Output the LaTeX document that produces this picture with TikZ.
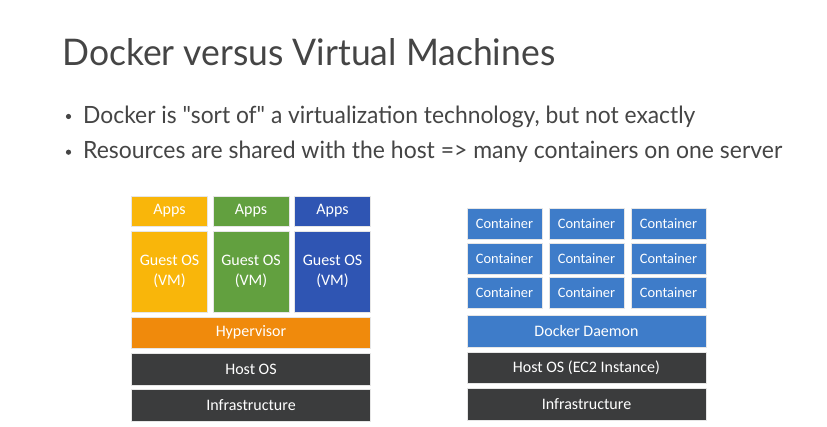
\documentclass[tikz,border=0pt]{standalone}
\usepackage{fontspec}
\usepackage{graphicx}
\newfontfamily\boxfont{Carlito}
\newfontfamily\slidefont{Lato}
\definecolor{txtgray}{HTML}{454545}
\definecolor{appyellow}{HTML}{F9B60A}
\definecolor{appgreen}{HTML}{62A03F}
\definecolor{appblue}{HTML}{2F55B3}
\definecolor{hyperorange}{HTML}{F08A0C}
\definecolor{darkslab}{HTML}{3B3C3D}
\definecolor{contblue}{HTML}{3E7CC9}
\definecolor{boxedge}{HTML}{E6E6E6}
\tikzset{
  box/.style={draw=boxedge, line width=0.6pt, text=white, font=\boxfont\fontsize{16}{20}\selectfont, inner sep=0pt, align=center},
  ctr/.style={box, fill=contblue, minimum width=75pt, minimum height=31pt, font=\boxfont\fontsize{14.4}{17}\selectfont},
  slidetext/.style={anchor=base west, inner sep=0pt, text=txtgray}
}
\begin{document}
\begin{tikzpicture}[x=1pt,y=-1pt]
\useasboundingbox[fill=white] (0,0) rectangle (827,427);
% title and bullets
\node[slidetext] (title) at (62,66) {\resizebox{493pt}{27pt}{\slidefont Docker versus Virtual Machines}};
\node[slidetext] (b1) at (83,123.3) {\resizebox{612pt}{17.5pt}{\slidefont Docker is "sort of" a virtualization technology, but not exactly}};
\node[slidetext] (b2) at (83,159) {\resizebox{699pt}{17.5pt}{\slidefont Resources are shared with the host => many containers on one server}};
\fill[txtgray] (68.5,116.5) circle (2.6pt);
\fill[txtgray] (68.5,152.2) circle (2.6pt);
% left stack
\node[box, fill=appyellow, minimum width=76pt, minimum height=30pt] (app1) at (169.5,211) {Apps};
\node[box, fill=appgreen, minimum width=76pt, minimum height=30pt] (app2) at (251,211) {Apps};
\node[box, fill=appblue, minimum width=76pt, minimum height=30pt] (app3) at (332.5,211) {Apps};
\node[box, fill=appyellow, minimum width=76pt, minimum height=81pt] (vm1) at (169.5,271.5) {Guest OS\\(VM)};
\node[box, fill=appgreen, minimum width=76pt, minimum height=81pt] (vm2) at (251,271.5) {Guest OS\\(VM)};
\node[box, fill=appblue, minimum width=76pt, minimum height=81pt] (vm3) at (332.5,271.5) {Guest OS\\(VM)};
\node[box, fill=hyperorange, minimum width=239pt, minimum height=31pt] (hyp) at (251,332.5) {Hypervisor};
\node[box, fill=darkslab, minimum width=239pt, minimum height=32pt] (hostL) at (251,369) {Host OS};
\node[box, fill=darkslab, minimum width=239pt, minimum height=32pt] (infraL) at (251,405.5) {Infrastructure};
% right stack
\node[ctr] (c11) at (504.5,223.5) {Container};
\node[ctr] (c12) at (586.5,223.5) {Container};
\node[ctr] (c13) at (668.5,223.5) {Container};
\node[ctr] (c21) at (504.5,258.5) {Container};
\node[ctr] (c22) at (586.5,258.5) {Container};
\node[ctr] (c23) at (668.5,258.5) {Container};
\node[ctr] (c31) at (504.5,293) {Container};
\node[ctr] (c32) at (586.5,293) {Container};
\node[ctr] (c33) at (668.5,293) {Container};
\node[box, fill=contblue, minimum width=239pt, minimum height=32pt] (daemon) at (586.5,331) {Docker Daemon};
\node[box, fill=darkslab, minimum width=239pt, minimum height=31pt] (hostR) at (586.5,367.5) {Host OS (EC2 Instance)};
\node[box, fill=darkslab, minimum width=239pt, minimum height=32pt] (infraR) at (586.5,404) {Infrastructure};
\end{tikzpicture}
\end{document}
